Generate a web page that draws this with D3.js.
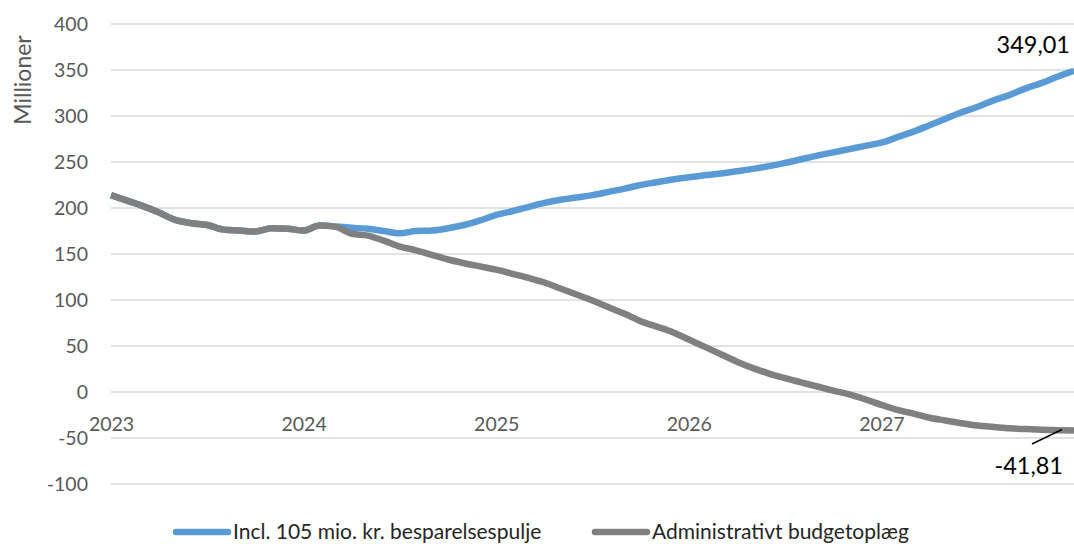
<!DOCTYPE html>
<html>
<head>
<meta charset="utf-8">
<script src="https://cdn.jsdelivr.net/npm/d3@7"></script>
<style>
  body { margin: 0; background: #fff; }
  svg { display: block; }
  text { font-family: Lato, "Open Sans", sans-serif; }
</style>
</head>
<body>
<svg id="chart" width="1074" height="544"></svg>
<script>
// monthly points, jan 2023 .. jan 2028 (61 points)
var startYear = 2023;
var yearTicks = [2023, 2024, 2025, 2026, 2027];
var yTicks = [-100, -50, 0, 50, 100, 150, 200, 250, 300, 350, 400];

var seriesNames = ["Incl. 105 mio. kr. besparelsespulje", "Administrativt budgetoplæg"];
var seriesColors = ["#5b9bd5", "#808080"];

var besparelse = [
    214, 208, 202, 195, 187, 183.5, 181.5, 176.5, 175.5, 174.5, 178, 177.5,
    175.5, 181, 180, 178.5, 177.5, 175, 172.5, 175, 175.5, 178, 181.5, 186.5,
    192.5, 196.5, 201, 205.5, 209, 211.5, 214, 217.5, 221, 225, 228, 231,
    233.5, 235.5, 237.5, 240, 242.5, 245.5, 249, 253, 257, 260.5, 264, 267.5,
    271, 277, 283, 290, 297, 304, 310, 317, 323, 330, 336, 343, 349.01
];
var budget = [
    214, 208, 202, 195, 187, 183.5, 181.5, 176.5, 175.5, 174.5, 178, 177.5,
    175.5, 181, 179.5, 172, 170, 164.5, 158, 154, 149, 144, 140, 136.5,
    133, 128.5, 124, 119, 112.5, 106, 99.5, 92, 85, 77, 71, 65,
    57, 49, 41, 33, 26, 20, 15, 10.5, 6, 1.5, -2.5, -8,
    -14, -19.5, -23.5, -28, -31, -34, -36.5, -38, -39.5, -40.3, -41, -41.5, -41.81
];

var svg = d3.select('#chart');
var x = d3.scaleLinear().domain([2023, 2028]).range([111, 1074]);
var y = d3.scaleLinear().domain([-100, 400]).range([484, 24]);

var toPoints = function(vals) {
    return vals.map(function(v, i) { return { t: startYear + i / 12, v: v }; });
};
// danish decimals, plain hyphen for minus
var fmt = function(v) { return v.toFixed(2).replace('.', ','); };

// gridlines
svg.append('g')
    .selectAll('line')
    .data(yTicks)
    .enter()
    .append('line')
    .attr('x1', x(2023))
    .attr('x2', x(2028))
    .attr('y1', function(d) { return y(d); })
    .attr('y2', function(d) { return y(d); })
    .attr('stroke', '#d9d9d9')
    .attr('stroke-width', 1.5);

// y tick labels
var yAxis = d3.axisLeft(y).tickValues(yTicks)
    .tickFormat(function(d) { return String(d); })
    .tickSize(0).tickPadding(0);
var gy = svg.append('g').attr('transform', 'translate(88,0)').call(yAxis);
gy.select('.domain').remove();
gy.selectAll('text')
    .attr('font-family', 'Lato')
    .attr('font-size', '19.5px')
    .attr('fill', '#595959');

// x tick labels sit under the zero line
var xAxis = d3.axisBottom(x).tickValues(yearTicks)
    .tickFormat(function(d) { return String(d); })
    .tickSize(0).tickPadding(0);
var gx = svg.append('g').attr('transform', 'translate(0,' + (y(0) + 25) + ')').call(xAxis);
gx.select('.domain').remove();
gx.selectAll('text')
    .attr('font-family', 'Lato')
    .attr('font-size', '19.5px')
    .attr('fill', '#595959');

svg.append('text')
    .attr('transform', 'translate(31,80) rotate(-90)')
    .attr('text-anchor', 'middle')
    .attr('font-size', '23px')
    .attr('fill', '#595959')
    .text('Millioner');

var line = d3.line()
    .x(function(d) { return x(d.t); })
    .y(function(d) { return y(d.v); })
    .curve(d3.curveMonotoneX);

svg.append('path')
    .datum(toPoints(besparelse))
    .attr('d', line)
    .attr('fill', 'none')
    .attr('stroke', seriesColors[0])
    .attr('stroke-width', 6.5)
    .attr('stroke-linejoin', 'round');

svg.append('path')
    .datum(toPoints(budget))
    .attr('d', line)
    .attr('fill', 'none')
    .attr('stroke', seriesColors[1])
    .attr('stroke-width', 6.5)
    .attr('stroke-linejoin', 'round');

// end labels
var lastB = besparelse[besparelse.length - 1];
var lastG = budget[budget.length - 1];
svg.append('text')
    .attr('x', 1070)
    .attr('y', y(lastB) - 18)
    .attr('text-anchor', 'end')
    .attr('font-size', '23.5px')
    .attr('fill', '#000')
    .text(fmt(lastB));

svg.append('line')
    .attr('x1', 1032).attr('y1', 444)
    .attr('x2', x(2028) - 12).attr('y2', y(lastG) - 1)
    .attr('stroke', '#000')
    .attr('stroke-width', 1.5);

svg.append('text')
    .attr('x', 1063)
    .attr('y', y(lastG) + 44)
    .attr('text-anchor', 'end')
    .attr('font-size', '23.5px')
    .attr('fill', '#000')
    .text(fmt(lastG));

// legend
var legendX = [173, 592];
var lg = svg.append('g')
    .selectAll('g')
    .data(seriesNames)
    .enter()
    .append('g')
    .attr('transform', function(d, i) { return 'translate(' + legendX[i] + ',532)'; });
lg.append('line')
    .attr('x1', 3).attr('x2', 55)
    .attr('stroke', function(d, i) { return seriesColors[i]; })
    .attr('stroke-width', 6.5)
    .attr('stroke-linecap', 'round');
lg.append('text')
    .attr('x', 60)
    .attr('y', 6.5)
    .attr('font-size', '21px')
    .attr('fill', '#262626')
    .text(function(d) { return d; });
</script>
</body>
</html>
